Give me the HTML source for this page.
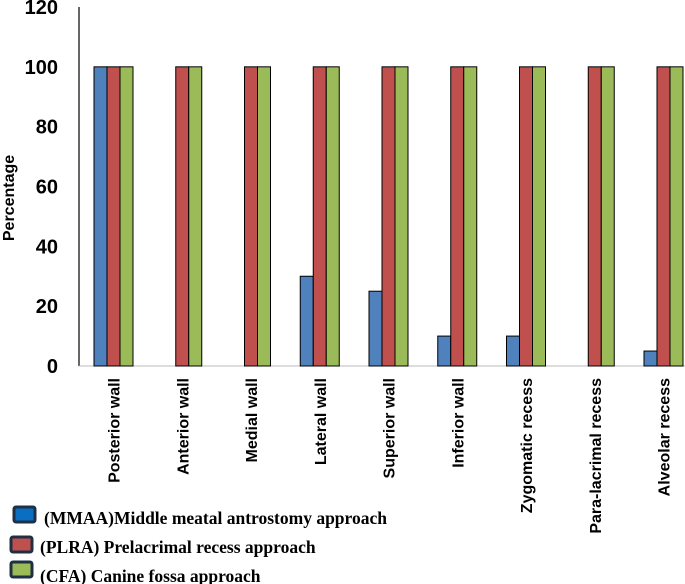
<!DOCTYPE html>
<html><head><meta charset="utf-8"><style>
body{margin:0;background:#fff;width:685px;height:584px;overflow:hidden}
svg{display:block}
.t{font-family:"Liberation Sans",sans-serif;font-weight:bold;font-size:20px;fill:#000}
.y{font-family:"Liberation Sans",sans-serif;font-weight:bold;font-size:16px;fill:#000}
.c{font-family:"Liberation Sans",sans-serif;font-weight:bold;font-size:16px;fill:#000}
.l{font-family:"Liberation Serif",serif;font-weight:bold;font-size:17.5px;fill:#000}
</style></head><body>
<svg id="chart" width="685" height="584" xmlns="http://www.w3.org/2000/svg"></svg>
<script>
const categories=["Posterior wall","Anterior wall","Medial wall","Lateral wall","Superior wall","Inferior wall","Zygomatic recess","Para-lacrimal recess","Alveolar recess"];
const mmaa=[100,0,0,30,25,10,10,0,5];
const plra=[100,100,100,100,100,100,100,100,100];
const cfa=[100,100,100,100,100,100,100,100,100];
const yTicks=[0,20,40,60,80,100,120];
const colors=["#4f81bd","#c0504d","#9bbb59"];
const series=[mmaa,plra,cfa];
const NS="http://www.w3.org/2000/svg";
const svg=document.getElementById('chart');
const y=v=>366-v*(359/120);
const xc=i=>113.5+i*68.75;
function mk(t,a,txt){const e=document.createElementNS(NS,t);for(const k in a)e.setAttribute(k,a[k]);if(txt!==undefined)e.textContent=txt;svg.appendChild(e);return e;}
let e=mk('line',{x1:79,y1:7,x2:79,y2:366,stroke:'#000','stroke-width':1.2});


e=mk('line',{x1:79,y1:366,x2:685,y2:366,stroke:'#bbb','stroke-width':1});


yTicks.forEach(v=>{const t=mk('text',{x:58,y:y(v)+7,class:'t','text-anchor':'end'},v);

});
e=mk('text',{x:0,y:0,class:'y',transform:'translate(14,198) rotate(-90)','text-anchor':'middle'},'Percentage');


categories.forEach((c,i)=>{
 series.forEach((s,j)=>{
  if(s[i]<=0)return;
  const r=mk('rect',{x:xc(i)-19.5+j*13,y:y(s[i]),width:13,height:y(0)-y(s[i]),fill:colors[j],stroke:'#000','stroke-width':1});
  
  
 });
 const t=mk('text',{x:0,y:0,class:'c',transform:`translate(${xc(i)+6},378) rotate(-90)`,'text-anchor':'end'},c);
 
 
});
const leg=[["(MMAA)Middle meatal antrostomy approach",14,507,44,524],["(PLRA) Prelacrimal recess approach",11,537,40,553],["(CFA) Canine fossa approach",11,562,40,582]];
leg.forEach((L,j)=>{
 const r=mk('rect',{x:L[1],y:L[2],width:21,height:15,rx:2,fill:['#0a6fc2',colors[1],colors[2]][j],stroke:'#1f2f44','stroke-width':3});
 
 
 const t=mk('text',{x:L[3],y:L[4],class:'l'},L[0]);
 
 
});
</script>
</body></html>
